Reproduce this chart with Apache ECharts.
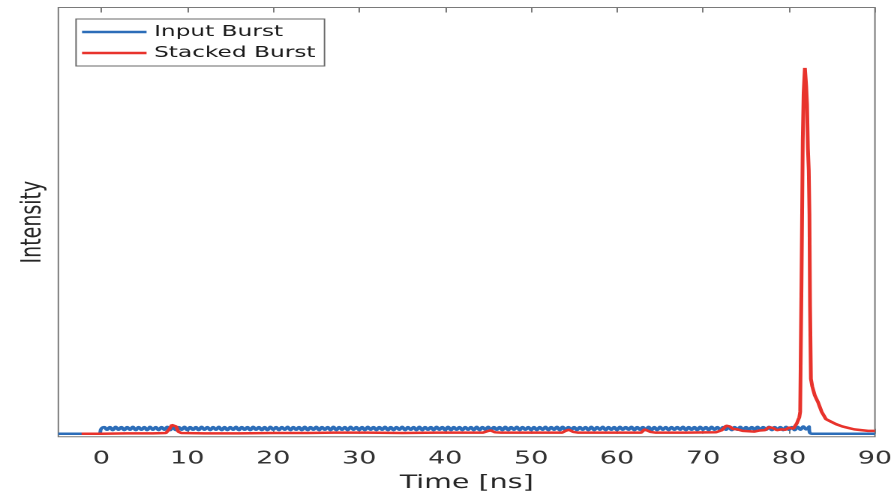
<!DOCTYPE html>
<html>
<head>
<meta charset="utf-8">
<script src="https://cdn.jsdelivr.net/npm/echarts@6/dist/echarts.min.js"></script>
<style>
  html, body { margin: 0; padding: 0; background: #fff; overflow: hidden; }
  /* the figure is drawn narrow and widened horizontally, like an exported MATLAB figure */
  #chart { width: 594px; height: 494px; transform: scaleX(1.5); transform-origin: 0 0; }
</style>
</head>
<body>
<div id="chart"></div>
<script>
// Time axis tick positions [ns]
const timeTicks = [0, 10, 20, 30, 40, 50, 60, 70, 80, 90];

// Input burst: flat lead-in, a ripple train sampled every 1/3 ns from t = 0, then flat again
const inputLead = [[-5, 0], [-0.3, 0]];
const inputWaveStart = 0;
const inputWaveStep = 1 / 3;
const inputWave = [
  0.014, 0.018, 0.011, 0.018, 0.010, 0.019, 0.011, 0.018,
  0.010, 0.018, 0.011, 0.019, 0.010, 0.018, 0.011, 0.018,
  0.010, 0.019, 0.011, 0.018, 0.010, 0.018, 0.011, 0.019,
  0.010, 0.018, 0.010, 0.018, 0.011, 0.019, 0.010, 0.018,
  0.011, 0.018, 0.010, 0.019, 0.011, 0.018, 0.010, 0.018,
  0.011, 0.019, 0.010, 0.018, 0.010, 0.018, 0.011, 0.019,
  0.010, 0.018, 0.011, 0.018, 0.010, 0.019, 0.011, 0.018,
  0.010, 0.018, 0.010, 0.019, 0.011, 0.018, 0.010, 0.018,
  0.011, 0.019, 0.010, 0.018, 0.011, 0.018, 0.010, 0.019,
  0.010, 0.018, 0.011, 0.019, 0.010, 0.018, 0.011, 0.018,
  0.010, 0.019, 0.010, 0.018, 0.011, 0.018, 0.010, 0.019,
  0.011, 0.018, 0.010, 0.018, 0.010, 0.019, 0.011, 0.018,
  0.010, 0.018, 0.011, 0.019, 0.010, 0.018, 0.010, 0.018,
  0.011, 0.019, 0.010, 0.018, 0.011, 0.018, 0.010, 0.019,
  0.010, 0.018, 0.011, 0.018, 0.010, 0.019, 0.011, 0.018,
  0.010, 0.019, 0.010, 0.018, 0.011, 0.018, 0.010, 0.018,
  0.011, 0.018, 0.010, 0.019, 0.010, 0.018, 0.011, 0.019,
  0.010, 0.018, 0.011, 0.018, 0.010, 0.019, 0.010, 0.018,
  0.011, 0.019, 0.010, 0.018, 0.011, 0.018, 0.010, 0.018,
  0.010, 0.018, 0.011, 0.019, 0.010, 0.018, 0.011, 0.019,
  0.010, 0.019, 0.010, 0.018, 0.011, 0.018, 0.010, 0.018,
  0.011, 0.018, 0.010, 0.019, 0.010, 0.018, 0.011, 0.019,
  0.010, 0.018, 0.011, 0.018, 0.010, 0.019, 0.011, 0.018,
  0.011, 0.019, 0.010, 0.018, 0.011, 0.018, 0.010, 0.019,
  0.010, 0.018, 0.010, 0.019, 0.011, 0.018, 0.010, 0.018,
  0.011, 0.018, 0.011, 0.019, 0.010, 0.018, 0.011, 0.018,
  0.010, 0.019, 0.011, 0.018, 0.010, 0.019, 0.011, 0.018,
  0.010, 0.018, 0.011, 0.019, 0.010, 0.018, 0.011, 0.019,
  0.010, 0.018, 0.010, 0.018, 0.011, 0.019, 0.010, 0.018,
  0.011, 0.019, 0.010, 0.018, 0.011, 0.018, 0.010, 0.019,
  0.011, 0.018, 0.010, 0.019, 0.011, 0.020, 0.012, 0.020
];
const inputTail = [[82.35, 0.012], [82.7, 0], [90, 0]];

// Stacked burst: sample times [ns] and intensity (peak normalised to 1)
const stackedTime = [
  -2.3, 0.0, 3.0, 6.0, 7.5, 7.9, 8.2, 8.45, 8.7, 8.95, 9.3,
  12.0, 16.0, 20.0, 24.0, 27.0, 31.0, 35.0, 39.0,
  44.4, 44.9, 45.3, 45.8, 46.5, 50.0,
  53.6, 54.0, 54.4, 54.9, 55.5, 59.0,
  62.8, 63.2, 63.5, 63.9, 64.5, 68.0,
  71.5, 72.2, 72.7, 73.1, 73.5, 74.0, 74.6, 75.3, 76.0, 76.6, 77.2, 77.7, 78.1,
  78.6, 79.1, 79.6, 80.0, 80.5, 80.9, 81.2, 81.3, 81.45, 81.6, 81.7, 81.85,
  82.0, 82.1, 82.2, 82.3, 82.38, 82.45, 82.55, 82.7, 83.0, 83.4, 83.8, 84.3,
  84.9, 85.5, 86.2, 86.9, 87.6, 88.4, 89.2, 90.0
];
const stackedValue = [
  0.000, 0.000, 0.001, 0.001, 0.002, 0.012, 0.024, 0.027, 0.020, 0.006, 0.002,
  0.001, 0.001, 0.002, 0.002, 0.003, 0.003, 0.002, 0.003,
  0.003, 0.007, 0.009, 0.004, 0.003, 0.003,
  0.003, 0.008, 0.011, 0.005, 0.003, 0.003,
  0.003, 0.012, 0.014, 0.005, 0.003, 0.003,
  0.004, 0.010, 0.022, 0.020, 0.013, 0.012, 0.008, 0.007, 0.006, 0.009, 0.010, 0.018, 0.016,
  0.010, 0.012, 0.011, 0.017, 0.014, 0.028, 0.045, 0.060, 0.40, 0.80, 0.93, 1.00,
  0.95, 0.90, 0.78, 0.72, 0.60, 0.35, 0.15, 0.13, 0.105, 0.085, 0.060, 0.040,
  0.033, 0.026, 0.020, 0.016, 0.012, 0.010, 0.008, 0.008
];

const inputData = inputLead
  .concat(inputWave.map((v, i) => [inputWaveStart + i * inputWaveStep, v]))
  .concat(inputTail);
const stackedData = stackedTime.map((t, i) => [t, stackedValue[i]]);

const FONT = 'DejaVu Sans';
const AXIS_GRAY = '#7a7a7a';
const BLUE = '#2c6db8';
const RED = '#e8332c';

const chart = echarts.init(document.getElementById('chart'), null, { renderer: 'canvas', devicePixelRatio: 2 });

chart.setOption({
  animation: false,
  backgroundColor: '#ffffff',
  grid: {
    left: 38.9, right: 10.7, top: 7.5, bottom: 57.3,
    show: true, borderColor: AXIS_GRAY, borderWidth: 1,
    outerBoundsMode: 'none'
  },
  legend: {
    data: [
      { name: 'Input Burst', icon: 'rect', itemStyle: { color: BLUE } },
      { name: 'Stacked Burst', icon: 'rect', itemStyle: { color: RED } }
    ],
    orient: 'vertical',
    left: 50.7, top: 19,
    itemWidth: 43, itemHeight: 2.5, itemGap: 5,
    padding: [5, 6, 5, 4],
    borderColor: '#6a6a6a', borderWidth: 1, backgroundColor: '#ffffff',
    selectedMode: false,
    textStyle: { fontFamily: FONT, fontSize: 15.5, color: '#1a1a1a' }
  },
  xAxis: [
    {
      type: 'value', position: 'bottom', min: -5, max: 90,
      axisLine: { show: false },
      axisTick: { inside: true, length: 5, customValues: timeTicks, lineStyle: { color: AXIS_GRAY, width: 1 } },
      axisLabel: { customValues: timeTicks, fontFamily: FONT, fontSize: 18, color: '#333333', margin: 13 },
      splitLine: { show: false },
      name: 'Time [ns]', nameLocation: 'middle', nameGap: 37,
      nameTextStyle: { fontFamily: FONT, fontSize: 19, color: '#262626' }
    },
    {
      type: 'value', position: 'top', min: -5, max: 90,
      axisLine: { show: false },
      axisTick: { inside: true, length: 5, customValues: timeTicks, lineStyle: { color: AXIS_GRAY, width: 1 } },
      axisLabel: { show: false },
      splitLine: { show: false }
    }
  ],
  yAxis: {
    type: 'value', min: -0.008, max: 1.165,
    axisLine: { show: false }, axisTick: { show: false }, axisLabel: { show: false },
    splitLine: { show: false },
    name: 'Intensity', nameLocation: 'middle', nameGap: 7.5,
    nameTextStyle: { fontFamily: FONT, fontSize: 19, color: '#262626' }
  },
  series: [
    {
      name: 'Input Burst', type: 'line', xAxisIndex: 0, data: inputData,
      symbol: 'none', smooth: 0.5,
      lineStyle: { color: BLUE, width: 2.5 }, itemStyle: { color: BLUE }
    },
    {
      name: 'Stacked Burst', type: 'line', xAxisIndex: 0, data: stackedData,
      symbol: 'none',
      lineStyle: { color: RED, width: 2.5 }, itemStyle: { color: RED }
    }
  ]
});
</script>
</body>
</html>
